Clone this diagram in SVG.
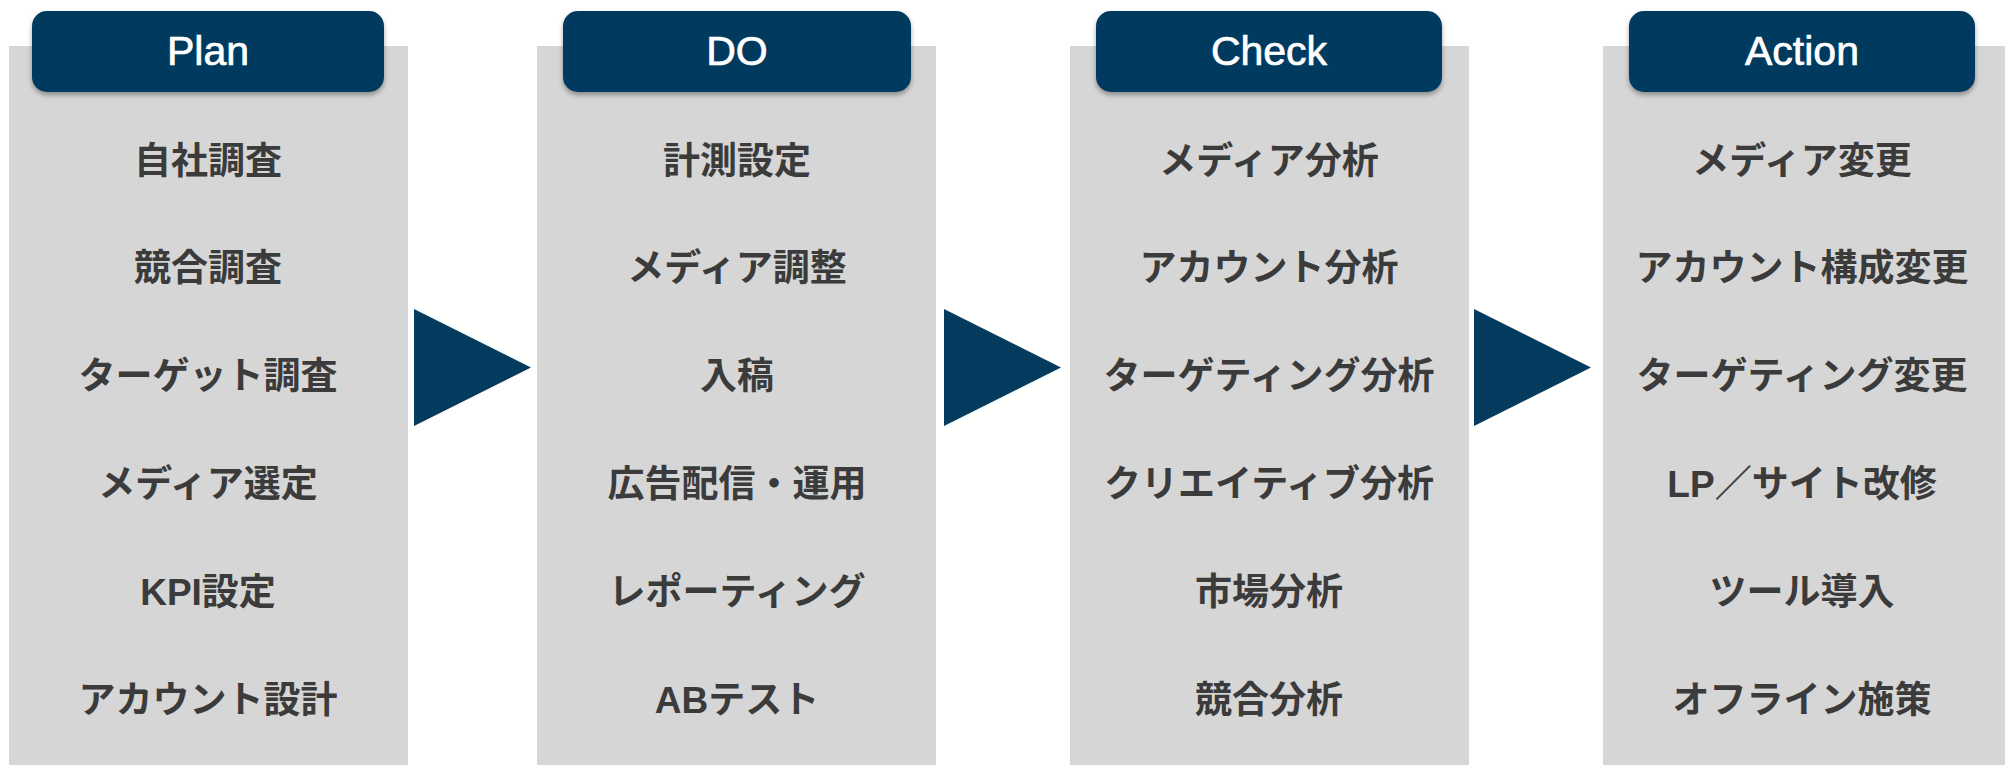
<svg xmlns="http://www.w3.org/2000/svg" width="2005" height="765" viewBox="0 0 2005 765">
<style>
.col{fill:#d6d6d6}
.hdr{fill:#053b5f;filter:url(#sh)}
.ht{fill:#ffffff;stroke:#ffffff;stroke-width:0.7;font-family:"Liberation Sans",Arial,sans-serif;font-size:41px;text-anchor:middle}
.it{fill:#3b3b3b;font-family:"Liberation Sans","Noto Sans CJK JP",sans-serif;font-weight:700;font-size:37px;text-anchor:middle;dominant-baseline:central}
.arr{fill:#053b5f}
</style>
<defs>
<filter id="sh" x="-10%" y="-20%" width="120%" height="150%">
<feDropShadow dx="0" dy="3" stdDeviation="2.5" flood-color="#000" flood-opacity="0.35"/>
</filter>
</defs>
<rect width="2005" height="765" fill="#ffffff"/>
<g id="plan">
<rect class="col" x="9" y="46" width="399" height="719"/>
<rect class="hdr" x="32" y="11" width="352" height="81" rx="15"/>
<text class="ht" x="208" y="65">Plan</text>
<text class="it" x="208" y="161">自社調査</text>
<text class="it" x="208" y="268">競合調査</text>
<text class="it" x="208" y="376">ターゲット調査</text>
<text class="it" x="208" y="484">メディア選定</text>
<text class="it" x="208" y="592">KPI設定</text>
<text class="it" x="208" y="700">アカウント設計</text>
</g>
<g id="do">
<rect class="col" x="537" y="46" width="399" height="719"/>
<rect class="hdr" x="563" y="11" width="348" height="81" rx="15"/>
<text class="ht" x="737" y="65">DO</text>
<text class="it" x="737" y="161">計測設定</text>
<text class="it" x="737" y="268">メディア調整</text>
<text class="it" x="737" y="376">入稿</text>
<text class="it" x="737" y="484">広告配信・運用</text>
<text class="it" x="737" y="592">レポーティング</text>
<text class="it" x="737" y="700">ABテスト</text>
</g>
<g id="check">
<rect class="col" x="1070" y="46" width="399" height="719"/>
<rect class="hdr" x="1096" y="11" width="346" height="81" rx="15"/>
<text class="ht" x="1269" y="65">Check</text>
<text class="it" x="1269" y="161">メディア分析</text>
<text class="it" x="1269" y="268">アカウント分析</text>
<text class="it" x="1269" y="376">ターゲティング分析</text>
<text class="it" x="1269" y="484">クリエイティブ分析</text>
<text class="it" x="1269" y="592">市場分析</text>
<text class="it" x="1269" y="700">競合分析</text>
</g>
<g id="action">
<rect class="col" x="1603" y="46" width="402" height="719"/>
<rect class="hdr" x="1629" y="11" width="346" height="81" rx="15"/>
<text class="ht" x="1802" y="65">Action</text>
<text class="it" x="1802" y="161">メディア変更</text>
<text class="it" x="1802" y="268">アカウント構成変更</text>
<text class="it" x="1802" y="376">ターゲティング変更</text>
<text class="it" x="1802" y="484">LP／サイト改修</text>
<text class="it" x="1802" y="592">ツール導入</text>
<text class="it" x="1802" y="700">オフライン施策</text>
</g>
<g id="connectors">
<polygon class="arr" points="414,309 531,367.5 414,426"/>
<polygon class="arr" points="944,309 1061,367.5 944,426"/>
<polygon class="arr" points="1474,309 1591,367.5 1474,426"/>
</g>
</svg>
